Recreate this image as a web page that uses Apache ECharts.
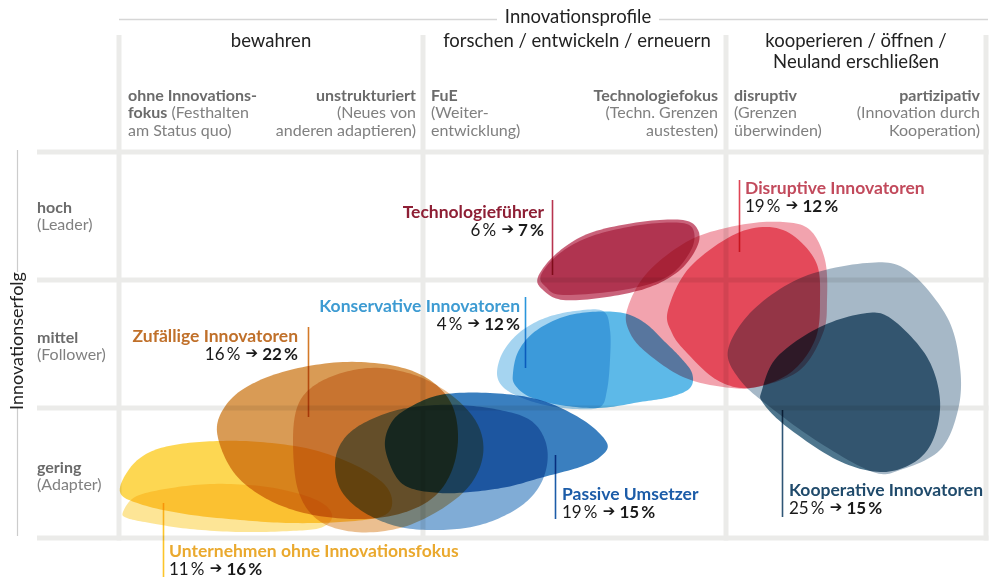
<!DOCTYPE html>
<html><head><meta charset="utf-8">
<script src="https://cdn.jsdelivr.net/npm/echarts@6/dist/echarts.min.js"></script>
<style>html,body{margin:0;padding:0;background:#fff}#c{width:990px;height:578px}</style>
</head><body><div id="c"></div>
<script>
// ---------- data ----------
const columnHeads = ['bewahren', 'forschen / entwickeln / erneuern', 'kooperieren / öffnen /\nNeuland erschließen'];
const rowHeads = [['hoch', '(Leader)'], ['mittel', '(Follower)'], ['gering', '(Adapter)']];
const colBounds = [0, 304, 607, 867];     // x units
const rowBounds = [0, 130, 258, 386];     // y units

const groups = ['Unternehmen ohne Innovationsfokus', 'Zufällige Innovatoren', 'Passive Umsetzer',
  'Konservative Innovatoren', 'Technologieführer', 'Disruptive Innovatoren', 'Kooperative Innovatoren'];
const shareBefore = [11, 16, 19, 4, 6, 19, 25];
const shareAfter  = [16, 22, 15, 12, 7, 12, 15];

// blob outlines (x units, y units), two per group
const ohneA = [[1,46],[11,70],[31,86],[61,94],[101,97],[141,96],[191,89],[236,73],[266,53],[273,33],[261,21],[221,16],[171,15],[121,18],[66,24],[21,34]];
const ohneB = [[4,26],[16,41],[46,49],[91,54],[141,52],[181,44],[206,33],[213,20],[201,10],[171,7],[121,6],[71,9],[31,15],[8,20]];
const zufA = [[98,106],[107,133],[131,153],[171,168],[224,176],[276,172],[311,158],[333,133],[339,98],[331,63],[311,38],[276,23],[231,19],[181,26],[141,43],[113,68]];
const zufB = [[174,98],[179,133],[196,153],[226,166],[261,170],[301,161],[336,140],[359,113],[364,83],[351,53],[321,28],[281,10],[236,6],[199,18],[179,48]];
const passA = [[216,71],[221,93],[238,111],[271,126],[304,132],[341,133],[381,128],[411,118],[426,98],[428,73],[418,48],[396,28],[361,13],[321,8],[281,11],[246,25],[223,46]];
const passB = [[266,91],[271,113],[286,128],[321,143],[371,145],[421,138],[464,118],[488,95],[481,81],[461,71],[421,60],[388,51],[351,46],[321,45],[291,50],[276,63]];
const konsA = [[378,165],[384,186],[401,206],[426,220],[456,227],[484,227],[491,208],[491,178],[488,148],[481,131],[456,129],[426,133],[401,141],[384,151]];
const konsB = [[394,165],[399,186],[414,205],[441,220],[471,226],[504,225],[526,215],[544,198],[561,181],[573,165],[571,150],[551,141],[521,136],[481,130],[441,133],[411,141],[396,153]];
const techA = [[419,261],[438,285],[471,305],[521,316],[564,318],[579,308],[578,291],[561,268],[531,251],[488,241],[444,238],[424,248]];
const techB = [[422,263],[441,285],[473,302],[521,313],[563,315],[575,306],[571,286],[548,261],[504,248],[444,243],[427,251]];
const disA = [[508,228],[528,265],[571,298],[621,313],[664,316],[691,308],[706,278],[708,238],[704,205],[681,168],[638,151],[604,151],[564,161],[528,185],[511,205]];
const disB = [[549,228],[571,271],[621,306],[664,308],[696,278],[701,238],[696,198],[671,165],[631,150],[598,158],[568,185],[553,205]];
const koopA = [[609,188],[634,228],[684,261],[748,275],[788,268],[828,221],[841,171],[839,128],[821,88],[781,68],[754,66],[701,95],[651,131],[621,158]];
const koopB = [[643,148],[658,181],[701,211],[748,225],[774,218],[808,181],[821,138],[814,98],[794,75],[761,66],[718,78],[668,111],[644,135]];

// ---------- styles / layout ----------
const blobList = [ohneA, ohneB, zufA, zufB, passA, passB, konsA, konsB, techA, techB, disA, disB, koopA, koopB];
const blobFill = ['#fdd752','#fde596','#d99b55','#ebbf90','#80acd6','#3a7fbf','#a5d4f0','#5db9e8','#c9627a','#df87a6','#f2a3ae','#f17284','#a6b8c7','#4e768e'];
const labelColor = ['#eaa92e','#c0702a','#1c5ca8','#3d9bd2','#8e1f35','#c24a5c','#1f4a6b'];
const lineColor  = ['#fcc52a','#d47a28','#1c5ca8','#2a96dc','#b8344f','#e04555','#2f5676'];
// label anchor [x, y], pointer line [x, y1, y2], alignment
const labelPos = [[50,-13,'left'],[179,202,'right'],[443,44,'left'],[401,232,'right'],[425,326,'right'],[626,350,'left'],[670,48,'left']];
const linePos  = [[44,35,-39],[189,211,121],[436,83,19],[406,241,170],[433,338,263],[620,358,286],[663,128,21]];

const FONT = 'Lato, "Open Sans", sans-serif';

function smoothClosed(pts, seg) {
  const out = [], n = pts.length;
  for (let i = 0; i < n; i++) {
    const p0 = pts[(i - 1 + n) % n], p1 = pts[i], p2 = pts[(i + 1) % n], p3 = pts[(i + 2) % n];
    for (let s = 0; s < seg; s++) {
      const t = s / seg, t2 = t * t, t3 = t2 * t;
      const f = k => 0.5 * (2 * p1[k] + (-p0[k] + p2[k]) * t + (2 * p0[k] - 5 * p1[k] + 4 * p2[k] - p3[k]) * t2 + (-p0[k] + 3 * p1[k] - 3 * p2[k] + p3[k]) * t3);
      out.push([f(0), f(1)]);
    }
  }
  return out;
}

const chart = echarts.init(document.getElementById('c'), null, {renderer: 'canvas'});
const series = [];

// grid lines
series.push({
  type: 'custom', z: 1, clip: false, silent: true,
  data: colBounds.map(v => [v, 0]),
  renderItem(params, api) {
    const cs = params.coordSys;
    const x = api.coord([api.value(0), 0])[0];
    return {type: 'line', shape: {x1: x, y1: 35, x2: x, y2: cs.y + cs.height + 2.5},
      style: {stroke: '#ebebe9', lineWidth: 5}};
  }
});
series.push({
  type: 'custom', z: 1, clip: false, silent: true,
  data: rowBounds.map(v => [0, v]),
  renderItem(params, api) {
    const cs = params.coordSys;
    const y = api.coord([0, api.value(1)])[1];
    return {type: 'line', shape: {x1: 37, y1: y, x2: cs.x + cs.width + 2.5, y2: y},
      style: {stroke: '#ebebe9', lineWidth: 5}};
  }
});

// blobs
blobList.forEach((outline, bi) => {
  series.push({
    type: 'custom', z: 2, clip: false, silent: true,
    name: groups[Math.floor(bi / 2)],
    data: outline,
    renderItem(params, api) {
      if (params.dataIndex !== 0) return null;
      const pts = outline.map(p => api.coord(p));
      return {type: 'polygon', name: 'blob', shape: {points: smoothClosed(pts, 12)},
        style: {fill: blobFill[bi], blend: 'multiply'}};
    }
  });
});

// labels with pointer lines
series.push({
  type: 'custom', z: 5, clip: false, silent: true,
  data: groups.map((g, i) => [labelPos[i][0], labelPos[i][1]]),
  renderItem(params, api) {
    const i = params.dataIndex;
    const lp = labelPos[i], ln = linePos[i];
    const a = api.coord([lp[0], lp[1]]);
    const l1 = api.coord([ln[0], ln[1]]), l2 = api.coord([ln[0], ln[2]]);
    const lx = Math.round(l1[0]) + 0.5;
    return {type: 'group', children: [
      {type: 'line', name: 'ptr', shape: {x1: lx, y1: l1[1], x2: lx, y2: l2[1]}, style: {stroke: lineColor[i], lineWidth: 1.6}},
      {type: 'text', x: a[0], y: a[1], style: {
        text: groups[i], fill: labelColor[i], font: 'bold 17.5px ' + FONT, align: lp[2], verticalAlign: 'middle'}},
      {type: 'text', x: a[0], y: a[1] + 18.5, style: {
        text: '{n|' + shareBefore[i] + '\u2009%}{a| \u2794}{b| ' + shareAfter[i] + '\u2009%}',
        align: lp[2], verticalAlign: 'middle',
        rich: {
          n: {fontFamily: FONT, fontSize: 17, fill: '#1a1a1a'},
          a: {fontFamily: 'DejaVu Sans', fontSize: 15, fontWeight: 'bold', fill: '#1a1a1a'},
          b: {fontFamily: FONT, fontSize: 17, fontWeight: 'bold', fill: '#1a1a1a'}
        }}}
    ]};
  }
});

// header / side texts
const sub = {
  b: {fontFamily: FONT, fontSize: 16, fontWeight: 'bold', fill: '#6b6b6b', lineHeight: 17.5},
  r: {fontFamily: FONT, fontSize: 16, fill: '#808080', lineHeight: 17.5}
};
function subText(x, y, txt, align) {
  return {type: 'text', x, y, style: {text: txt, align, verticalAlign: 'top', rich: sub}};
}
const HF = '18.5px ' + FONT;
const graphic = [
  {type: 'line', shape: {x1: 119, y1: 19.5, x2: 497, y2: 19.5}, style: {stroke: '#d6d6d6', lineWidth: 1.5}},
  {type: 'line', shape: {x1: 659, y1: 19.5, x2: 988, y2: 19.5}, style: {stroke: '#d6d6d6', lineWidth: 1.5}},
  {type: 'text', x: 578, y: 17, style: {text: 'Innovationsprofile', font: HF, fill: '#222', align: 'center', verticalAlign: 'middle'}},
  {type: 'text', x: 271, y: 41, style: {text: columnHeads[0], font: HF, fill: '#222', align: 'center', verticalAlign: 'middle'}},
  {type: 'text', x: 577, y: 41, style: {text: columnHeads[1], font: HF, fill: '#222', align: 'center', verticalAlign: 'middle'}},
  {type: 'text', x: 856, y: 30, style: {text: columnHeads[2], font: HF, fill: '#222', align: 'center', verticalAlign: 'top', lineHeight: 21.5}},
  subText(128, 87, '{b|ohne Innovations-}\n{b|fokus}{r| (Festhalten}\n{r|am Status quo)}', 'left'),
  subText(416, 87, '{b|unstrukturiert}\n{r|(Neues von}\n{r|anderen adaptieren)}', 'right'),
  subText(431, 87, '{b|FuE}\n{r|(Weiter-}\n{r|entwicklung)}', 'left'),
  subText(718, 87, '{b|Technologiefokus}\n{r|(Techn. Grenzen}\n{r|austesten)}', 'right'),
  subText(734, 87, '{b|disruptiv}\n{r|(Grenzen}\n{r|überwinden)}', 'left'),
  subText(980, 87, '{b|partizipativ}\n{r|(Innovation durch}\n{r|Kooperation)}', 'right'),
  subText(37, 199, '{b|' + rowHeads[0][0] + '}\n{r|' + rowHeads[0][1] + '}', 'left'),
  subText(37, 329, '{b|' + rowHeads[1][0] + '}\n{r|' + rowHeads[1][1] + '}', 'left'),
  subText(37, 459, '{b|' + rowHeads[2][0] + '}\n{r|' + rowHeads[2][1] + '}', 'left'),
  {type: 'line', shape: {x1: 17.5, y1: 150, x2: 17.5, y2: 272}, style: {stroke: '#cccccc', lineWidth: 1.2}},
  {type: 'line', shape: {x1: 17.5, y1: 408, x2: 17.5, y2: 536}, style: {stroke: '#cccccc', lineWidth: 1.2}},
  {type: 'text', x: 17, y: 341, rotation: Math.PI / 2, style: {text: 'Innovationserfolg', font: '18px ' + FONT, fill: '#222', align: 'center', verticalAlign: 'middle'}}
];

chart.setOption({
  animation: false,
  backgroundColor: '#fff',
  grid: {left: 119, right: 4, top: 152, bottom: 40},
  xAxis: {type: 'value', min: 0, max: 867, show: false},
  yAxis: {type: 'value', min: 0, max: 386, show: false},
  graphic,
  series
});

// apply multiply blending to the blob shapes and pointer lines drawn by the custom series
function applyBlend() {
  const zr = chart.getZr();
  zr.storage.getDisplayList(true).forEach(el => {
    if (el.name === 'blob' || el.name === 'ptr' || el.type === 'polygon') {
      el.style.blend = 'multiply';
      el.markRedraw();
    }
  });
  zr.refreshImmediately();
}
applyBlend();
chart.on('finished', () => {
  const zr = chart.getZr();
  const need = zr.storage.getDisplayList(true).some(el => (el.type === 'polygon' || el.name === 'ptr') && el.style.blend !== 'multiply');
  if (need) applyBlend();
});
</script></body></html>
